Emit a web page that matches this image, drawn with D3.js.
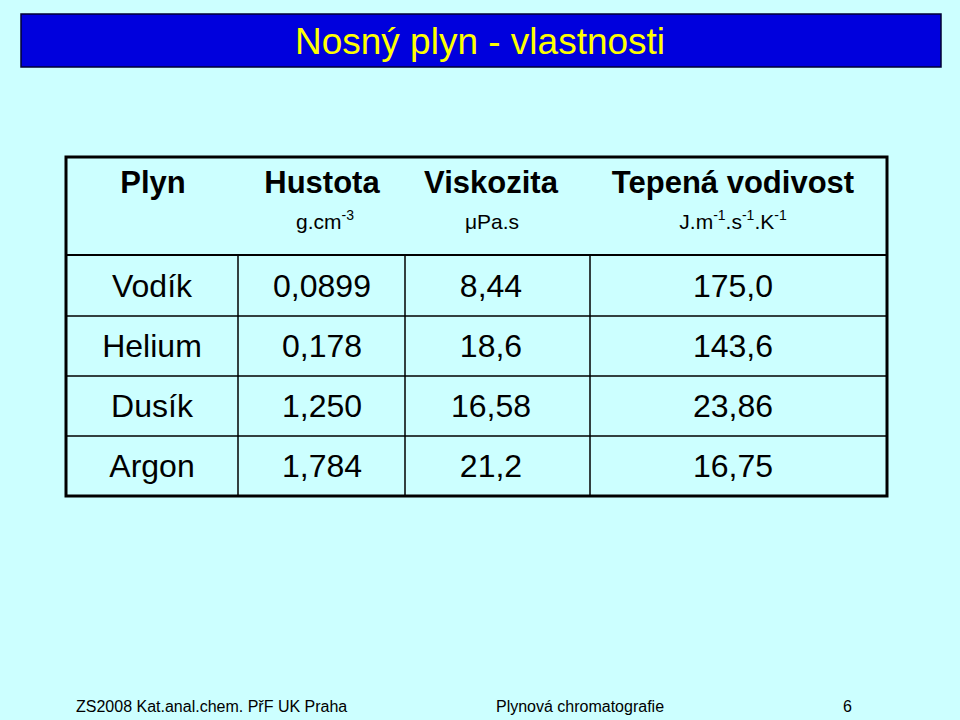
<!DOCTYPE html>
<html><head><meta charset="utf-8">
<script src="https://cdn.jsdelivr.net/npm/d3@7"></script>
<style>body{margin:0;background:#ccffff}</style></head>
<body><svg id="s" width="960" height="720"></svg>
<script>
const title = "Nosný plyn - vlastnosti";
const headers = ["Plyn","Hustota","Viskozita","Tepená vodivost"];
const gases = ["Vodík","Helium","Dusík","Argon"];
const density = ["0,0899","0,178","1,250","1,784"];
const viscosity = ["8,44","18,6","16,58","21,2"];
const conductivity = ["175,0","143,6","23,86","16,75"];
const footer = ["ZS2008 Kat.anal.chem. PřF UK Praha","Plynová chromatografie","6"];

const svg = d3.select("#s"), F = "'Liberation Sans', Arial, sans-serif";
svg.append("rect").attr("width",960).attr("height",720).attr("fill","#ccffff");
svg.append("rect").attr("x",21).attr("y",14).attr("width",920).attr("height",53).attr("fill","#0000dd").attr("stroke","#000033").attr("stroke-width",1.5);
svg.append("text").attr("x",480).attr("y",54).attr("text-anchor","middle").attr("font-family",F).attr("font-size",37).attr("fill","#ffff00").text(title);

const colEdges = [66,238,405,590,887];
const rowEdges = [255,316,376,436,496];
const g = svg.append("g");
g.append("rect").attr("x",66).attr("y",157).attr("width",821).attr("height",339).attr("fill","none").attr("stroke","#000").attr("stroke-width",3);
rowEdges.slice(0,4).forEach(y=>g.append("line").attr("x1",66).attr("x2",887).attr("y1",y).attr("y2",y).attr("stroke","#000").attr("stroke-width",y===255?2:1.5));
colEdges.slice(1,4).forEach(x=>g.append("line").attr("x1",x).attr("x2",x).attr("y1",255).attr("y2",496).attr("stroke","#000").attr("stroke-width",1.5));
const hx=[153,322,491,733];
headers.forEach((h,i)=>g.append("text").attr("x",hx[i]).attr("y",193).attr("text-anchor","middle").attr("font-family",F).attr("font-weight","bold").attr("font-size",31).text(h));
function unit(x,parts){const t=g.append("text").attr("x",x).attr("y",229).attr("text-anchor","middle").attr("font-family",F).attr("font-size",21);
 parts.forEach(p=>{const s=t.append("tspan").text(p[0]); if(p[1]) s.attr("font-size",14).attr("dy",-9); else if(p[2]) s.attr("dy",9);});}
unit(325,[["g.cm"],["-3",1]]);
unit(492,[["μPa.s"]]);
unit(733,[["J.m"],["-1",1],[".s",0,1],["-1",1],[".K",0,1],["-1",1]]);
const cols=[gases,density,viscosity,conductivity];
const tx=[152,322,491,733];
gases.forEach((_,r)=>cols.forEach((c,i)=>g.append("text").attr("x",tx[i]).attr("y",(rowEdges[r]+rowEdges[r+1])/2+11).attr("text-anchor","middle").attr("font-family",F).attr("font-size",32).text(c[r])));
const fy=712;
svg.append("text").attr("x",76).attr("y",fy).attr("font-family",F).attr("font-size",16).text(footer[0]);
svg.append("text").attr("x",580).attr("y",fy).attr("text-anchor","middle").attr("font-family",F).attr("font-size",16).text(footer[1]);
svg.append("text").attr("x",852).attr("y",fy).attr("text-anchor","end").attr("font-family",F).attr("font-size",16).text(footer[2]);
</script></body></html>
